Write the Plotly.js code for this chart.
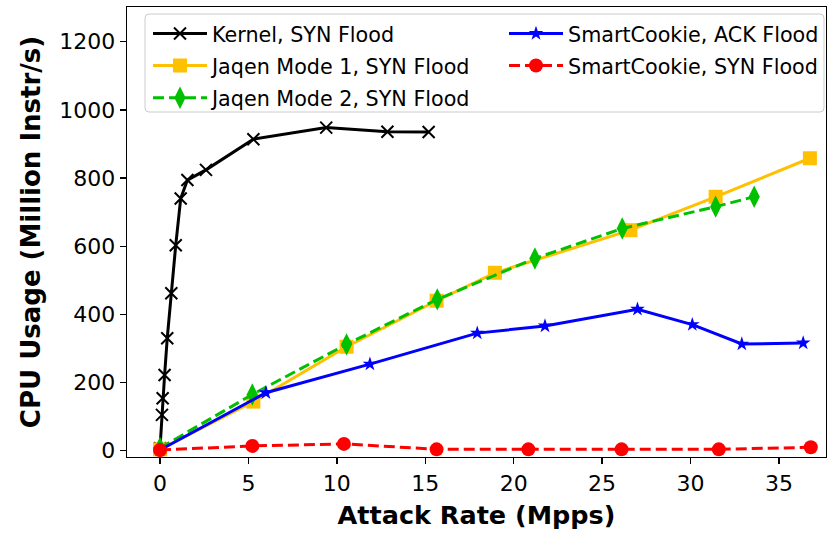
<!DOCTYPE html>
<html>
<head>
<meta charset="utf-8">
<script src="https://cdn.plot.ly/plotly-3.0.1.min.js"></script>
<style>html,body{margin:0;padding:0;background:#fff;}#chart{width:838px;height:534px;}</style>
</head>
<body>
<div id="chart"></div>
<script>
// ---- data ----
const kernelX = [0, 0.11, 0.15, 0.26, 0.41, 0.64, 0.89, 1.17, 1.55, 2.6, 5.28, 9.4, 12.86, 15.19];
const kernelY = [7, 105, 154, 222, 330, 462, 603, 740, 794, 824, 914, 948, 936, 935];

const jaqen1X = [0, 5.28, 10.55, 15.64, 18.94, 26.6, 31.42, 36.75];
const jaqen1Y = [4, 144, 305, 440, 522, 647, 745, 858];

const jaqen2X = [0, 5.22, 10.55, 15.68, 21.2, 26.14, 31.42, 33.6];
const jaqen2Y = [8, 165, 312, 444, 564, 652, 716, 745];

const ackX = [0, 5.99, 11.87, 17.94, 21.77, 27.0, 30.1, 32.9, 36.37];
const ackY = [2, 170, 254, 345, 366, 415, 370, 313, 316];

const synX = [0, 5.22, 10.4, 15.64, 20.83, 26.1, 31.6, 36.8];
const synY = [2, 14, 20, 4, 4, 4, 4, 10];

const names = ["Kernel, SYN Flood", "Jaqen Mode 1, SYN Flood", "Jaqen Mode 2, SYN Flood",
               "SmartCookie, ACK Flood", "SmartCookie, SYN Flood"];
const xTicks = [0, 5, 10, 15, 20, 25, 30, 35];
const yTicks = [0, 200, 400, 600, 800, 1000, 1200];

const FONT = "DejaVu Sans, sans-serif";

const traces = [
  {x: kernelX, y: kernelY, name: names[0], mode: "lines+markers", legend: "legend", legendgroup: "g1",
   line: {color: "#000000", width: 3},
   marker: {symbol: "x-thin-open", size: 12, color: "#000000", line: {width: 2, color: "#000000"}}},
  {x: jaqen1X, y: jaqen1Y, name: names[1], mode: "lines+markers", legend: "legend", legendgroup: "g2",
   line: {color: "#FFC000", width: 3},
   marker: {symbol: "square", size: 14, color: "#FFC000"}},
  {x: jaqen2X, y: jaqen2Y, name: names[2], mode: "lines+markers", legend: "legend", legendgroup: "g3",
   line: {color: "#00C000", width: 3, dash: "11px,5px"},
   marker: {symbol: "diamond-tall", size: 16, color: "#00C000"}},
  {x: ackX, y: ackY, name: names[3], mode: "lines+markers", legend: "legend2", legendgroup: "g4",
   line: {color: "#0000FF", width: 3},
   marker: {symbol: "star", size: 11, color: "#0000FF"}},
  {x: synX, y: synY, name: names[4], mode: "lines+markers", legend: "legend2", legendgroup: "g5",
   line: {color: "#FF0000", width: 3, dash: "11px,5px"},
   marker: {symbol: "circle", size: 14, color: "#FF0000"}}
];

// rounded legend frame (paper coords)
const L = 127, R = 826, T = 7, B = 457;
const W = R - L, H = B - T;
function px2x(p) { return (p - L) / W; }
function px2y(p) { return (B - p) / H; }
const fx0 = 145, fx1 = 824, fy0 = 14, fy1 = 112, rr = 4;
const framePath =
  "M" + px2x(fx0 + rr) + "," + px2y(fy0) +
  " L" + px2x(fx1 - rr) + "," + px2y(fy0) +
  " Q" + px2x(fx1) + "," + px2y(fy0) + " " + px2x(fx1) + "," + px2y(fy0 + rr) +
  " L" + px2x(fx1) + "," + px2y(fy1 - rr) +
  " Q" + px2x(fx1) + "," + px2y(fy1) + " " + px2x(fx1 - rr) + "," + px2y(fy1) +
  " L" + px2x(fx0 + rr) + "," + px2y(fy1) +
  " Q" + px2x(fx0) + "," + px2y(fy1) + " " + px2x(fx0) + "," + px2y(fy1 - rr) +
  " L" + px2x(fx0) + "," + px2y(fy0 + rr) +
  " Q" + px2x(fx0) + "," + px2y(fy0) + " " + px2x(fx0 + rr) + "," + px2y(fy0) + " Z";

const axisCommon = {
  showline: true, mirror: true, linecolor: "#000000", linewidth: 1.3,
  ticks: "outside", ticklen: 6, tickwidth: 1.3, tickcolor: "#000000",
  showgrid: false, zeroline: false,
  tickfont: {family: FONT, size: 22, color: "#000000"}
};

const legendCommon = {
  xanchor: "left", yanchor: "top", bgcolor: "rgba(0,0,0,0)", borderwidth: 0,
  itemwidth: 54, tracegroupgap: 2.2,
  font: {family: FONT, size: 20.7, color: "#000"}
};

const layout = {
  width: 838, height: 534,
  margin: {l: L, r: 838 - R, t: T, b: 534 - B},
  paper_bgcolor: "#ffffff", plot_bgcolor: "#ffffff",
  font: {family: FONT, color: "#000000"},
  showlegend: true,
  xaxis: Object.assign({}, axisCommon, {
    range: [-1.866, 37.66], tickvals: xTicks, ticktext: xTicks.map(String),
    title: {text: "<b>Attack Rate (Mpps)</b>", font: {family: FONT, size: 25.5, color: "#000"}, standoff: 11}
  }),
  yaxis: Object.assign({}, axisCommon, {
    range: [-18.5, 1301.8], tickvals: yTicks, ticktext: yTicks.map(String),
    title: {text: "<b>CPU Usage (Million Instr/s)</b>", font: {family: FONT, size: 26, color: "#000"}, standoff: 11}
  }),
  legend: Object.assign({}, legendCommon, {x: px2x(148), y: px2y(13.5)}),
  legend2: Object.assign({}, legendCommon, {x: px2x(504), y: px2y(13.5)}),
  shapes: [{type: "path", xref: "paper", yref: "paper", path: framePath,
            fillcolor: "rgba(255,255,255,0.8)", line: {color: "#cccccc", width: 1}, layer: "above"}]
};

Plotly.newPlot("chart", traces, layout, {staticPlot: true, displayModeBar: false});
</script>
</body>
</html>
